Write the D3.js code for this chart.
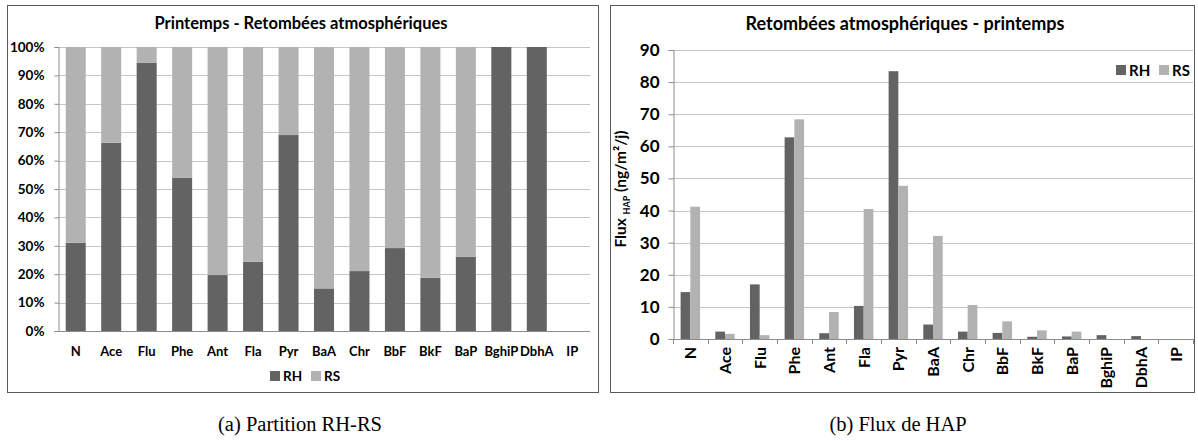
<!DOCTYPE html>
<html><head><meta charset="utf-8">
<script src="https://cdn.jsdelivr.net/npm/d3@7"></script>
<style>
body{margin:0;background:#fff;}
svg text{font-family:Lato,"Open Sans",sans-serif;font-weight:bold;fill:#000;}
.cap{font-family:"Liberation Serif","DejaVu Serif",serif;font-weight:normal;}
</style></head>
<body><svg id="c" width="1198" height="441"></svg>
<script>
const categories = ["N","Ace","Flu","Phe","Ant","Fla","Pyr","BaA","Chr","BbF","BkF","BaP","BghiP","DbhA","IP"];
const series = ["RH","RS"];
// Partition RH share (fraction)
const rhShare = [0.311,0.663,0.945,0.539,0.197,0.244,0.690,0.150,0.211,0.292,0.187,0.261,1.0,1.0,0];
const rsShare = [0.689,0.337,0.055,0.461,0.803,0.756,0.310,0.850,0.789,0.708,0.813,0.739,0,0,0];
// Flux HAP (ng/m²/j)
const fluxRH = [14.6,2.3,17.0,62.8,1.8,10.3,83.4,4.5,2.3,1.9,0.7,0.8,1.2,0.9,0];
const fluxRS = [41.2,1.6,1.2,68.4,8.4,40.5,47.7,32.1,10.6,5.5,2.7,2.3,0,0,0];
const pctTicks = [0,0.1,0.2,0.3,0.4,0.5,0.6,0.7,0.8,0.9,1.0];
const fluxTicks = [0,10,20,30,40,50,60,70,80,90];

const colors = {RH:"#636363", RS:"#b2b2b2"};
const gridColor = "#c6c6c6", axisColor = "#8c8c8c", frameColor = "#5a5a5a";
const svg = d3.select("#c");

// ---------- Left chart ----------
{
  const g = svg.append("g");
  g.append("rect").attr("x",7.5).attr("y",5.5).attr("width",591).attr("height",387)
    .attr("fill","#fff").attr("stroke",frameColor).attr("stroke-width",1);
  g.append("text").attr("x",301).attr("y",29).attr("text-anchor","middle")
    .style("font-size","16.5px").text("Printemps - Retombées atmosphériques");
  const x = d3.scaleBand().domain(categories).range([58,590]).paddingInner(0.436).paddingOuter(0.218);
  const y = d3.scaleLinear().domain([0,1]).range([331,47]);
  g.append("g").selectAll("line").data(pctTicks.slice(1)).join("line")
    .attr("x1",58).attr("x2",590).attr("y1",d=>Math.round(y(d))+0.5).attr("y2",d=>Math.round(y(d))+0.5)
    .attr("stroke",gridColor);
  const ya = g.append("g").attr("transform","translate(58.5,0)")
    .call(d3.axisLeft(y).tickValues(pctTicks).tickFormat(d3.format(".0%")).tickSizeOuter(0).tickSize(4).tickPadding(10));
  ya.select(".domain").attr("stroke",axisColor);
  ya.selectAll(".tick line").attr("stroke",axisColor);
  ya.selectAll("text").style("font-size","13.5px").attr("font-family",null);
  const stack = categories.map((c,i)=>({c, rh:rhShare[i], rs:rsShare[i]}));
  g.append("g").selectAll("rect.rh").data(stack).join("rect")
    .attr("x",d=>x(d.c)).attr("width",x.bandwidth())
    .attr("y",d=>y(d.rh)).attr("height",d=>y(0)-y(d.rh)).attr("fill",colors.RH);
  g.append("g").selectAll("rect.rs").data(stack).join("rect")
    .attr("x",d=>x(d.c)).attr("width",x.bandwidth())
    .attr("y",d=>y(d.rh+d.rs)).attr("height",d=>y(d.rh)-y(d.rh+d.rs)).attr("fill",colors.RS);
  g.append("line").attr("x1",58).attr("x2",590).attr("y1",331.5).attr("y2",331.5).attr("stroke",axisColor);
  g.append("g").selectAll("text").data(categories).join("text")
    .attr("x",d=>x(d)+x.bandwidth()/2).attr("y",356).attr("text-anchor","middle")
    .style("font-size","13px").text(d=>d);
  const lg = g.append("g");
  [["RH",270],["RS",311]].forEach(([s,lx])=>{
    lg.append("rect").attr("x",lx).attr("y",371).attr("width",10).attr("height",10).attr("fill",colors[s]);
    lg.append("text").attr("x",lx+13).attr("y",381).style("font-size","13.5px").text(s);
  });
}

// ---------- Right chart ----------
{
  const g = svg.append("g");
  g.append("rect").attr("x",610.5).attr("y",5.5).attr("width",584).attr("height",387)
    .attr("fill","#fff").attr("stroke",frameColor).attr("stroke-width",1);
  g.append("text").attr("x",905).attr("y",30).attr("text-anchor","middle")
    .style("font-size","18px").text("Retombées atmosphériques - printemps");
  const x = d3.scaleBand().domain(categories).range([673,1193]).paddingInner(0.44).paddingOuter(0.22);
  const xs = d3.scaleBand().domain(series).range([0,x.bandwidth()]);
  const y = d3.scaleLinear().domain([0,90]).range([339,50]);
  g.append("g").selectAll("line").data(fluxTicks.slice(1)).join("line")
    .attr("x1",673).attr("x2",1193).attr("y1",d=>Math.round(y(d))+0.5).attr("y2",d=>Math.round(y(d))+0.5)
    .attr("stroke",gridColor);
  const ya = g.append("g").attr("transform","translate(673.5,0)")
    .call(d3.axisLeft(y).tickValues(fluxTicks).tickSizeOuter(0).tickSize(5).tickPadding(9));
  ya.select(".domain").attr("stroke",axisColor);
  ya.selectAll(".tick line").attr("stroke",axisColor);
  ya.selectAll("text").style("font-size","17px").attr("font-family",null);
  const data = categories.map((c,i)=>({c, vals:[{s:"RH",v:fluxRH[i]},{s:"RS",v:fluxRS[i]}]}));
  const grp = g.append("g").selectAll("g").data(data).join("g")
    .attr("transform",d=>`translate(${x(d.c)},0)`);
  grp.selectAll("rect").data(d=>d.vals).join("rect")
    .attr("x",d=>xs(d.s)).attr("width",xs.bandwidth())
    .attr("y",d=>y(d.v)).attr("height",d=>y(0)-y(d.v)).attr("fill",d=>colors[d.s]);
  g.append("line").attr("x1",673).attr("x2",1193).attr("y1",339.5).attr("y2",339.5).attr("stroke",axisColor);
  const bounds = categories.map(c=>x(c)-x.step()*x.paddingOuter()).concat([1193]);
  g.append("g").selectAll("line").data(bounds).join("line")
    .attr("x1",d=>Math.round(d)+0.5).attr("x2",d=>Math.round(d)+0.5).attr("y1",339).attr("y2",344)
    .attr("stroke",axisColor);
  g.append("g").selectAll("text").data(categories).join("text")
    .attr("transform",d=>`translate(${x(d)+x.bandwidth()/2+6},347) rotate(-90)`)
    .attr("text-anchor","end").style("font-size","16px").text(d=>d);
  const yl = g.append("text").attr("transform","translate(626,189) rotate(-90)")
    .attr("text-anchor","middle").style("font-size","15.5px");
  yl.append("tspan").text("Flux ");
  yl.append("tspan").attr("dy",4).style("font-size","9px").text("HAP");
  yl.append("tspan").attr("dy",-4).text(" (ng/m²/j)");
  [["RH",1116],["RS",1159]].forEach(([s,lx])=>{
    g.append("rect").attr("x",lx).attr("y",65).attr("width",10).attr("height",10).attr("fill",colors[s]);
    g.append("text").attr("x",lx+13).attr("y",76).style("font-size","15px").text(s);
  });
}

svg.append("text").attr("class","cap").attr("x",300).attr("y",431).attr("text-anchor","middle")
  .style("font-size","20.5px").text("(a) Partition RH-RS");
svg.append("text").attr("class","cap").attr("x",898).attr("y",431).attr("text-anchor","middle")
  .style("font-size","20.5px").text("(b) Flux de HAP");
</script></body></html>
